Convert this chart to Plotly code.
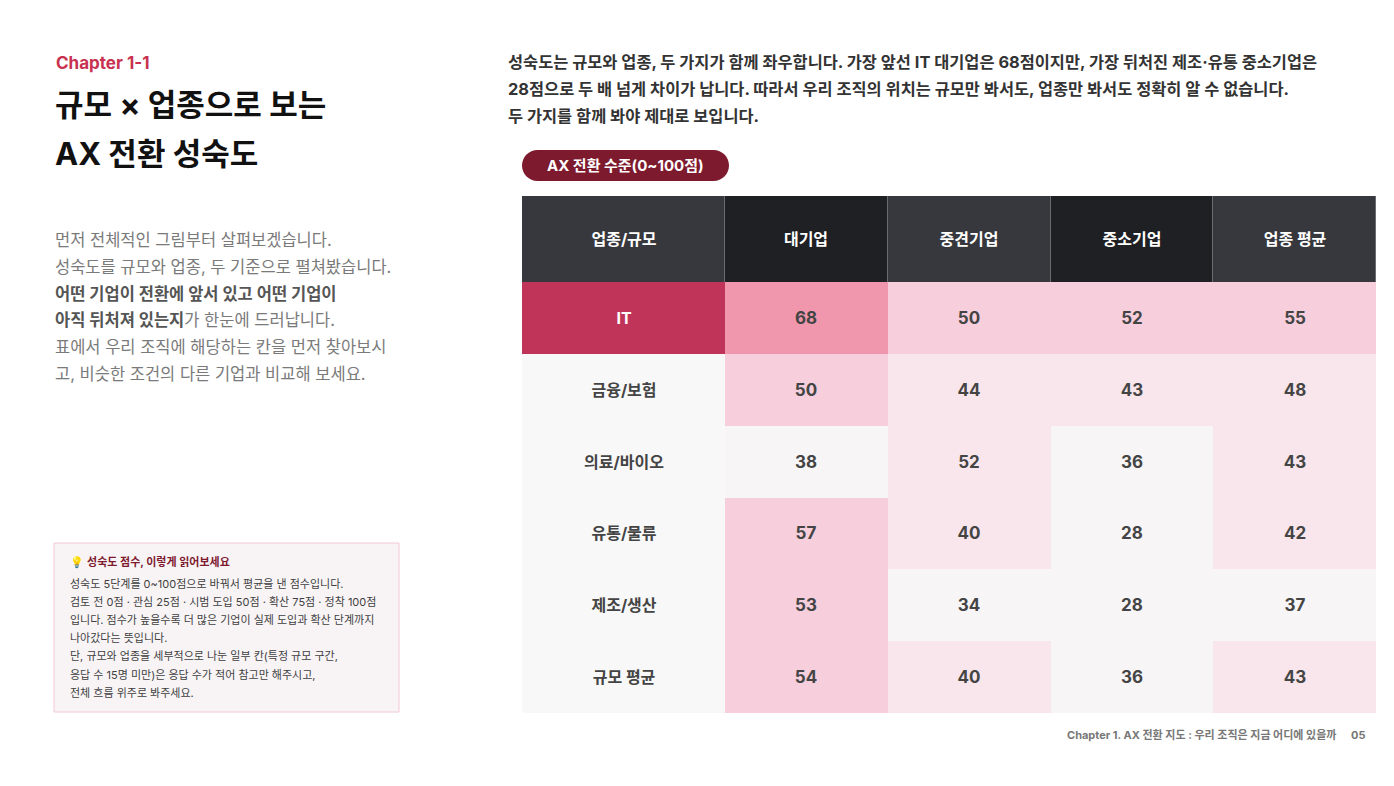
import plotly.graph_objects as go

W, H = 1394, 786
# the page body adds an 8px margin, so positions are shifted back by that much
OFF = 8
FONT = "Inter, Noto Sans CJK KR, sans-serif"

# table data
industries = ["IT", "금융/보험", "의료/바이오", "유통/물류", "제조/생산", "규모 평균"]
sizes = ["대기업", "중견기업", "중소기업", "업종 평균"]
corner_label = "업종/규모"
large = [68, 50, 38, 57, 53, 54]
mid = [50, 44, 52, 40, 34, 40]
small = [52, 43, 36, 28, 28, 36]
industry_avg = [55, 48, 43, 42, 37, 43]
# cells with few respondents (shown one shade lighter)
low_sample = [("의료/바이오", "중견기업")]
highlight_row = "IT"

columns = [large, mid, small, industry_avg]
values = [[col[i] for col in columns] for i in range(len(industries))]


def tier(v, row, col):
    if v >= 60:
        t = 3
    elif v >= 50:
        t = 2
    elif v >= 40:
        t = 1
    else:
        t = 0
    if (row, col) in low_sample and t > 1:
        t = 1
    return t


tiers = [
    [tier(v, industries[i], sizes[j]) for j, v in enumerate(row)]
    for i, row in enumerate(values)
]

TIER_COLORS = ["#f8f5f7", "#f8e6ec", "#f6cedc", "#f097ae"]


def steps(colors):
    n = len(colors)
    cs = []
    for k, c in enumerate(colors):
        cs += [[k / n, c], [(k + 1) / n, c]]
    return cs


def px(x):
    return (x - OFF) / W


def py(y):
    return 1 - (y - OFF) / H


fig = go.Figure()

common = dict(showscale=False, hoverinfo="skip", texttemplate="<b>%{text}</b>")

# header - corner
fig.add_trace(go.Heatmap(
    z=[[0]], x=[corner_label], y=["header"], text=[[corner_label]],
    colorscale=steps(["#37383d", "#1f2023"]), zmin=-0.5, zmax=1.5,
    textfont=dict(family=FONT, size=16), xgap=1,
    xaxis="x", yaxis="y2", **common,
))
# header - size columns
fig.add_trace(go.Heatmap(
    z=[[(j + 1) % 2 for j in range(len(sizes))]], x=sizes, y=["header"],
    text=[sizes], colorscale=steps(["#37383d", "#1f2023"]), zmin=-0.5, zmax=1.5,
    textfont=dict(family=FONT, size=16), xgap=1,
    xaxis="x2", yaxis="y2", **common,
))
# row labels
fig.add_trace(go.Heatmap(
    z=[[1 if r == highlight_row else 0] for r in industries], x=[corner_label], y=industries,
    text=[[r] for r in industries], colorscale=steps(["#f8f8f8", "#c1345a"]),
    zmin=-0.5, zmax=1.5, textfont=dict(family=FONT, size=16),
    xaxis="x", yaxis="y", **common,
))
# values
fig.add_trace(go.Heatmap(
    z=tiers, x=sizes, y=industries, text=values,
    colorscale=steps(TIER_COLORS), zmin=-0.5, zmax=3.5,
    textfont=dict(family=FONT, size=17),
    xaxis="x2", yaxis="y", **common,
))

hidden = dict(visible=False, fixedrange=True, showgrid=False, zeroline=False)
fig.update_layout(
    width=W, height=H,
    margin=dict(l=0, r=0, t=0, b=0),
    paper_bgcolor="white", plot_bgcolor="#6a6b70",
    showlegend=False,
    xaxis=dict(domain=[px(522), px(725)], anchor="y", **hidden),
    xaxis2=dict(domain=[px(725), px(1376)], anchor="y", **hidden),
    yaxis=dict(domain=[py(713), py(282)], anchor="x", autorange="reversed", **hidden),
    yaxis2=dict(domain=[py(282), py(196)], anchor="x", **hidden),
    font=dict(family=FONT),
)


def note(x, y, text, size, color, xanchor="left"):
    fig.add_annotation(
        x=px(x), y=py(y), xref="paper", yref="paper", text=text, showarrow=False,
        xanchor=xanchor, yanchor="middle", align="left",
        font=dict(family=FONT, size=size, color=color),
    )


# left column
note(54, 63, "<b>Chapter 1-1</b>", 17, "#c8314f")
note(53, 105, "<b>규모 × 업종으로 보는</b>", 31, "#111111")
note(53, 153, "<b>AX 전환 성숙도</b>", 31, "#111111")

intro = [
    "먼저 전체적인 그림부터 살펴보겠습니다.",
    "성숙도를 규모와 업종, 두 기준으로 펼쳐봤습니다.",
    "<b><span style='color:#555'>어떤 기업이 전환에 앞서 있고 어떤 기업이</span></b>",
    "<b><span style='color:#555'>아직 뒤처져 있는지</span></b>가 한눈에 드러납니다.",
    "표에서 우리 조직에 해당하는 칸을 먼저 찾아보시",
    "고, 비슷한 조건의 다른 기업과 비교해 보세요.",
]
for k, line in enumerate(intro):
    note(53, 240 + k * 26.8, line, 16.5, "#7a7a7a")

# info box
fig.add_shape(type="rect", xref="paper", yref="paper",
              x0=px(54), x1=px(399), y0=py(712), y1=py(543),
              fillcolor="#f8f4f6", line=dict(color="#f3c8d5", width=1), layer="below")
note(68, 562, "💡 <b><span style='color:#7e1a2e'>성숙도 점수, 이렇게 읽어보세요</span></b>", 11, "#f2c94c")
box_lines = [
    "성숙도 5단계를 0~100점으로 바꿔서 평균을 낸 점수입니다.",
    "검토 전 0점 · 관심 25점 · 시범 도입 50점 · 확산 75점 · 정착 100점",
    "입니다. 점수가 높을수록 더 많은 기업이 실제 도입과 확산 단계까지",
    "나아갔다는 뜻입니다.",
    "단, 규모와 업종을 세부적으로 나눈 일부 칸(특정 규모 구간,",
    "응답 수 15명 미만)은 응답 수가 적어 참고만 해주시고,",
    "전체 흐름 위주로 봐주세요.",
]
for k, line in enumerate(box_lines):
    note(68, 584 + k * 18.1, line, 11, "#3f3f3f")

# right top paragraph
lead = [
    "성숙도는 규모와 업종, 두 가지가 함께 좌우합니다. 가장 앞선 IT 대기업은 68점이지만, 가장 뒤처진 제조·유통 중소기업은",
    "28점으로 두 배 넘게 차이가 납니다. 따라서 우리 조직의 위치는 규모만 봐서도, 업종만 봐서도 정확히 알 수 없습니다.",
    "두 가지를 함께 봐야 제대로 보입니다.",
]
for k, line in enumerate(lead):
    note(506, 62 + k * 27, "<b>" + line + "</b>", 16.4, "#333333")

# badge (pill)
bw, bh = 207, 31
r = bh / 2
c = 0.5523 * r
pill = (
    f"M {r},0 L {bw - r},0 "
    f"C {bw - r + c},0 {bw},{r - c} {bw},{r} "
    f"C {bw},{r + c} {bw - r + c},{bh} {bw - r},{bh} "
    f"L {r},{bh} "
    f"C {r - c},{bh} 0,{r + c} 0,{r} "
    f"C 0,{r - c} {r - c},0 {r},0 Z"
)
fig.add_shape(type="path", xref="paper", yref="paper",
              xsizemode="pixel", ysizemode="pixel",
              xanchor=px(522), yanchor=py(181), path=pill,
              fillcolor="#7d1a2d", line=dict(width=0))
note(625, 166, "<b>AX 전환 수준(0~100점)</b>", 15, "white", xanchor="center")

# footer
note(1338, 735, "<b>Chapter 1. AX 전환 지도 : 우리 조직은 지금 어디에 있을까</b>", 11, "#777777", xanchor="right")
note(1367, 735, "<b>05</b>", 11, "#777777", xanchor="right")

fig.write_html("out.html")
